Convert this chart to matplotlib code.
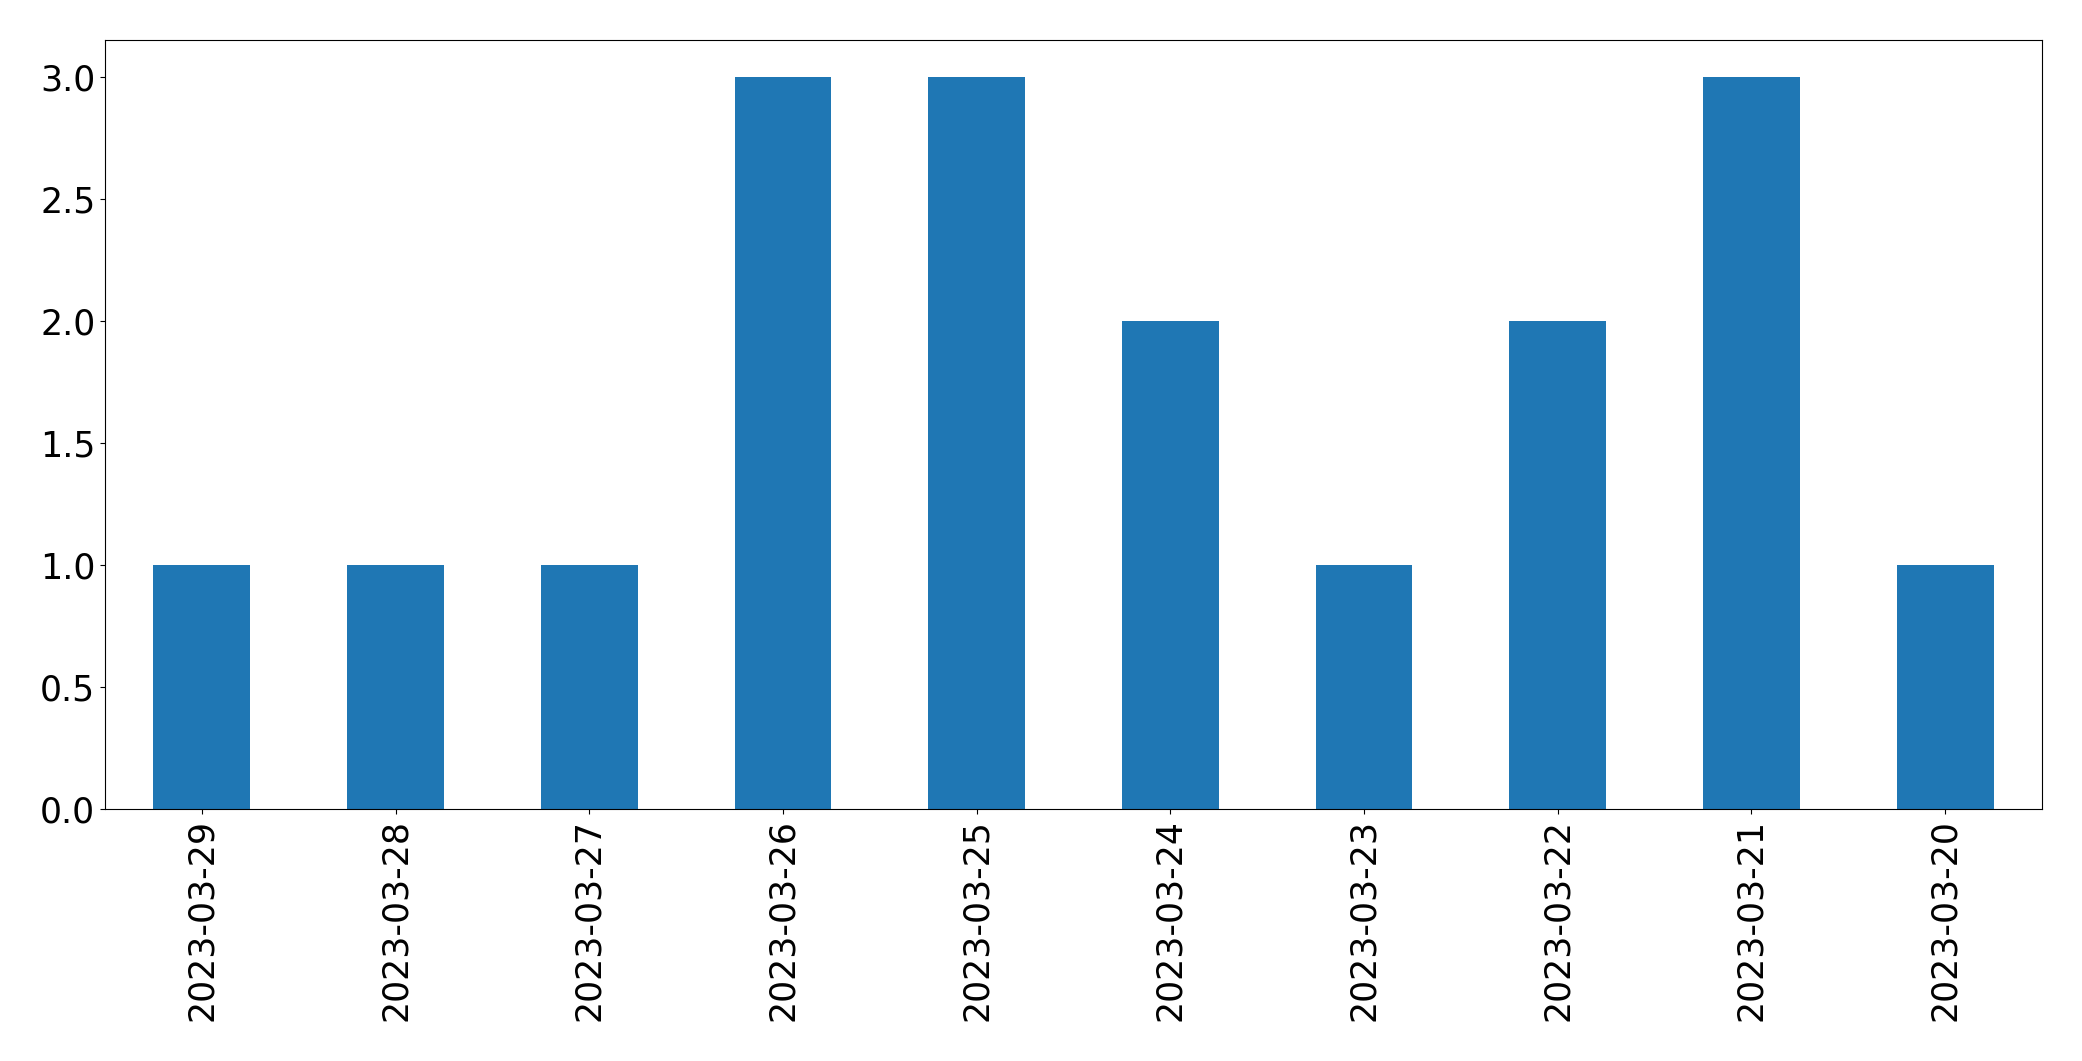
import matplotlib
matplotlib.use("Agg")
import matplotlib.pyplot as plt
import numpy as np

dates = ["2023-03-29", "2023-03-28", "2023-03-27", "2023-03-26", "2023-03-25",
         "2023-03-24", "2023-03-23", "2023-03-22", "2023-03-21", "2023-03-20"]
counts = [1, 1, 1, 3, 3, 2, 1, 2, 3, 1]

fig = plt.figure(figsize=(20.82, 10.61), dpi=100)
ax = fig.add_axes([105/2082, 1 - 809/1061, (2042-105)/2082, (809-40)/1061])
x = np.arange(len(dates))
ax.bar(x, counts, width=0.5, color="#1f77b4")
ax.set_xticks(x)
ax.set_xticklabels(dates, rotation=90, fontsize=25)
ax.tick_params(axis="y", labelsize=25)
ax.set_xlim(-0.5, len(dates) - 0.5)
ax.set_ylim(0, 3.15)
fig.savefig("out.png", dpi=100)
